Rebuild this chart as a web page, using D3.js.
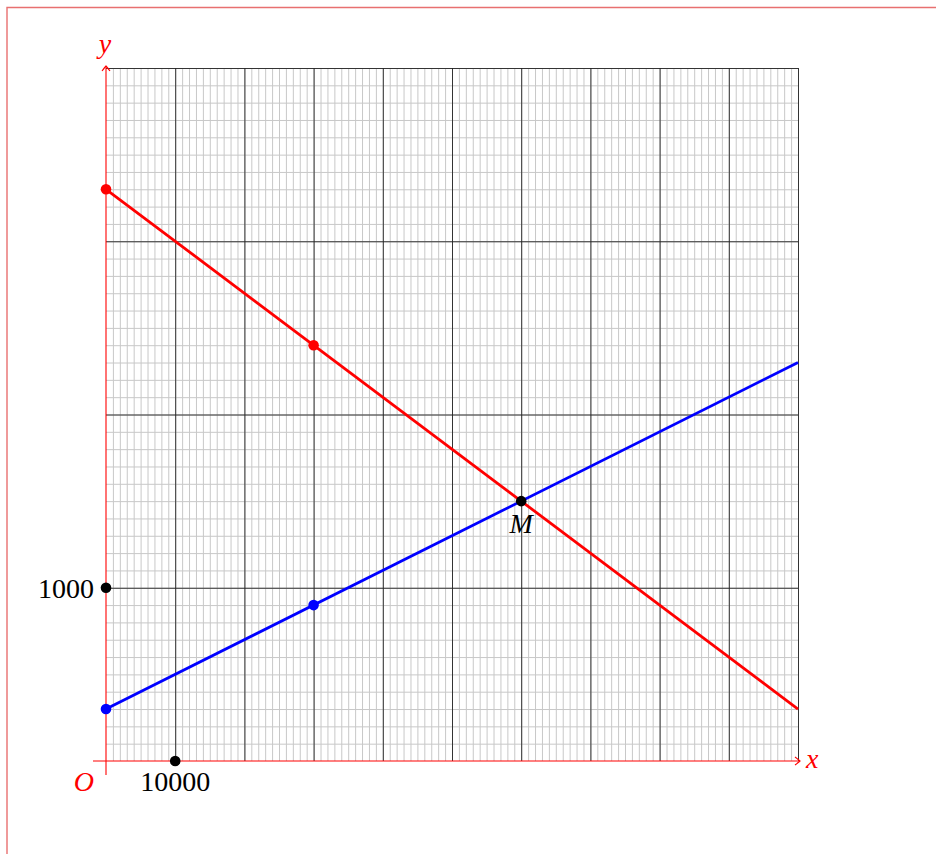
<!DOCTYPE html>
<html>
<head>
<meta charset="utf-8">
<script src="https://cdn.jsdelivr.net/npm/d3@7"></script>
<style>
  html, body { margin: 0; padding: 0; background: #fff; }
</style>
</head>
<body>
<div id="graf"></div>
<script>
// data
const redLine = [[0, 3300], [100000, 300]]
const blueLine = [[0, 300], [100000, 2300]]
const redPoints = [[0, 3300], [30000, 2400]]
const bluePoints = [[0, 300], [30000, 900]]
const blackPoints = [[0, 1000], [10000, 0]]
const pointM = [60000, 1500]
const xMinor = d3.range(0, 100001, 1000)
const xMajor = d3.range(0, 100001, 10000)
const yMinor = d3.range(0, 4001, 100)
const yMajor = d3.range(0, 4001, 1000)
const xLabel = 10000
const yLabel = 1000

const anchoTotal = 936
const altoTotal = 854
const fuente = "'Liberation Serif', 'Times New Roman', serif"

const svg = d3.select('#graf')
  .append('svg')
  .attr('width', anchoTotal)
  .attr('height', altoTotal)
  .style('font-family', fuente)

// pink frame
svg.append('path')
  .attr('d', 'M7,854 V7.5 H936')
  .attr('fill', 'none')
  .attr('stroke', '#e87070')
  .attr('stroke-width', 1.4)

// !ESCALADORES
const x = d3.scaleLinear().domain([0, 100000]).range([106, 798])
const y = d3.scaleLinear().domain([0, 4000]).range([761, 68])
const ancho = x(100000) - x(0)
const alto = y(0) - y(4000)

const g = svg.append('g')

// minor grid
g.append('g')
  .attr('class', 'grid-minor')
  .attr('transform', `translate(0, ${y(0)})`)
  .call(d3.axisBottom(x).tickValues(xMinor.filter((v) => v > 0)).tickSize(-alto).tickFormat(''))
g.append('g')
  .attr('class', 'grid-minor')
  .attr('transform', `translate(${x(0)}, 0)`)
  .call(d3.axisLeft(y).tickValues(yMinor.filter((v) => v > 0)).tickSize(-ancho).tickFormat(''))
g.selectAll('.grid-minor line').attr('stroke', '#c8c8c8').attr('stroke-width', 1)

// major grid (the lines at 0 are covered by the red axes)
g.append('g')
  .attr('class', 'grid-major')
  .attr('transform', `translate(0, ${y(0)})`)
  .call(d3.axisBottom(x).tickValues(xMajor.filter((v) => v > 0)).tickSize(-alto).tickFormat(''))
g.append('g')
  .attr('class', 'grid-major')
  .attr('transform', `translate(${x(0)}, 0)`)
  .call(d3.axisLeft(y).tickValues(yMajor.filter((v) => v > 0)).tickSize(-ancho).tickFormat(''))
g.selectAll('.grid-major line').attr('stroke', '#222222').attr('stroke-width', 0.9)
g.selectAll('.domain').remove()

// red axes with arrows
const ejes = svg.append('g').attr('stroke', '#ff0000').attr('fill', 'none').attr('stroke-width', 1.1)
ejes.append('line').attr('x1', x(0) - 13).attr('x2', x(100000) + 2).attr('y1', y(0)).attr('y2', y(0))
ejes.append('line').attr('x1', x(0)).attr('x2', x(0)).attr('y1', y(0) + 14).attr('y2', y(4000) - 2)
ejes.append('path')
  .attr('d', `M${x(100000) - 3},${y(0) - 4} Q${x(100000) + 1},${y(0) - 1} ${x(100000) + 2},${y(0)} Q${x(100000) + 1},${y(0) + 1} ${x(100000) - 3},${y(0) + 4}`)
ejes.append('path')
  .attr('d', `M${x(0) - 4},${y(4000) + 3} Q${x(0) - 1},${y(4000) - 1} ${x(0)},${y(4000) - 2} Q${x(0) + 1},${y(4000) - 1} ${x(0) + 4},${y(4000) + 3}`)

const linea = d3.line().x((d) => x(d[0])).y((d) => y(d[1]))

svg.append('path')
  .datum(redLine)
  .attr('d', linea)
  .attr('fill', 'none')
  .attr('stroke', '#ff0000')
  .attr('stroke-width', 2.8)

svg.append('path')
  .datum(blueLine)
  .attr('d', linea)
  .attr('fill', 'none')
  .attr('stroke', '#0000ff')
  .attr('stroke-width', 2.8)

function puntos(datos, color) {
  svg.append('g')
    .selectAll('circle')
    .data(datos)
    .enter()
    .append('circle')
    .attr('cx', (d) => x(d[0]))
    .attr('cy', (d) => y(d[1]))
    .attr('r', 5.3)
    .attr('fill', color)
}
puntos(redPoints, '#ff0000')
puntos(bluePoints, '#0000ff')
puntos(blackPoints, '#000000')
puntos([pointM], '#000000')

// labels
function texto(px, py, t, anchor, italic, color) {
  svg.append('text')
    .attr('x', px)
    .attr('y', py)
    .attr('text-anchor', anchor)
    .attr('font-family', fuente)
    .attr('font-size', 28)
    .attr('font-style', italic ? 'italic' : 'normal')
    .attr('fill', color)
    .text(t)
}

texto(x(0) - 12, y(yLabel) + 10, d3.format('d')(yLabel), 'end', false, '#000')
texto(x(xLabel), y(0) + 30, d3.format('d')(xLabel), 'middle', false, '#000')
texto(x(pointM[0]), y(pointM[1]) + 32, 'M', 'middle', true, '#000')
texto(x(0) - 12, y(0) + 30, 'O', 'end', true, '#ff0000')
texto(x(100000) + 8, y(0) + 7, 'x', 'start', true, '#ff0000')
texto(x(0) - 1, y(4000) - 15, 'y', 'middle', true, '#ff0000')
</script>
</body>
</html>
